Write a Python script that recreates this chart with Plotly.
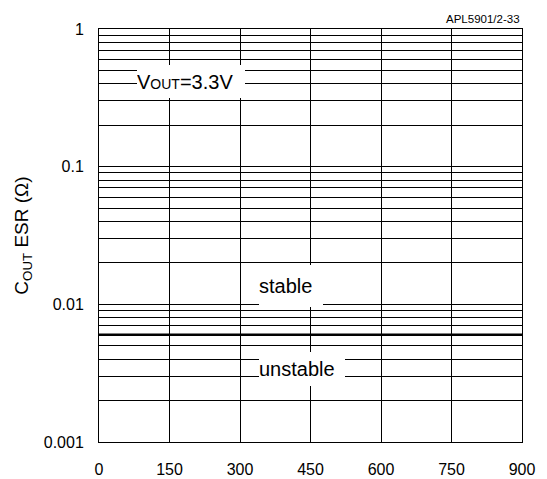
import plotly.graph_objects as go

# data
x_ticks = [0, 150, 300, 450, 600, 750, 900]
decades = [0.001, 0.01, 0.1, 1]
boundary_x = [0, 900]
boundary_esr = [0.006, 0.006]

y_tickvals = []
y_ticktext = []
for d in decades[:-1]:
    for m in range(1, 10):
        y_tickvals.append(d * m)
        y_ticktext.append(str(d) if m == 1 else "")
y_tickvals.append(1)
y_ticktext.append("1")

FONT = "Liberation Sans, Arial, sans-serif"
CLEAR = "rgba(0,0,0,0)"

fig = go.Figure()
fig.add_trace(go.Scatter(x=boundary_x, y=boundary_esr, mode="lines",
                         line=dict(color="black", width=2.5), showlegend=False,
                         hoverinfo="skip"))

# page body has an 8px margin: shrink the figure accordingly
fig.update_layout(
    width=539, height=471,
    margin=dict(l=91, r=24.5, t=21, b=36.5, autoexpand=False),
    paper_bgcolor="white", plot_bgcolor="white",
    font=dict(family=FONT, color="black", size=16),
    showlegend=False,
)
fig.update_xaxes(
    range=[0, 900], tickvals=x_ticks, ticktext=[str(v) for v in x_ticks],
    showgrid=True, gridcolor="black", gridwidth=1,
    showline=True, linecolor="black", linewidth=1, mirror=True,
    ticks="outside", ticklen=13, tickcolor=CLEAR, zeroline=False, automargin=False,
    tickfont=dict(size=16),
)
fig.update_yaxes(
    type="log", range=[-3, 0], tickvals=y_tickvals, ticktext=y_ticktext,
    showgrid=True, gridcolor="black", gridwidth=1,
    showline=True, linecolor="black", linewidth=1, mirror=True,
    ticks="outside", ticklen=11, tickcolor=CLEAR, zeroline=False, automargin=False,
    tickfont=dict(size=16),
    title=dict(text="C<sub>OUT</sub> ESR (Ω)", font=dict(size=19), standoff=10),
)

fig.add_annotation(x=195.7, y=-0.3813, xref="x", yref="y",
                   text="V<span style='font-size:14px'>OUT</span>=3.3V",
                   showarrow=False, bgcolor="white", borderpad=0, borderwidth=0,
                   width=108, height=33, align="left",
                   font=dict(size=20, family=FONT))
fig.add_annotation(x=408.5, y=-1.8668, xref="x", yref="y", text="stable",
                   showarrow=False, bgcolor="white", borderpad=0, borderwidth=0,
                   width=64, height=42, align="left",
                   font=dict(size=20, family=FONT))
fig.add_annotation(x=431.9, y=-2.4697, xref="x", yref="y", text="unstable",
                   showarrow=False, bgcolor="white", borderpad=0, borderwidth=0,
                   width=86, height=34, align="left",
                   font=dict(size=20, family=FONT))
fig.add_annotation(x=1, y=1, xref="paper", yref="paper", yanchor="bottom",
                   xanchor="right", yshift=2, text="APL5901/2-33",
                   showarrow=False, font=dict(size=11.5, family=FONT))

fig.write_html("out.html")
